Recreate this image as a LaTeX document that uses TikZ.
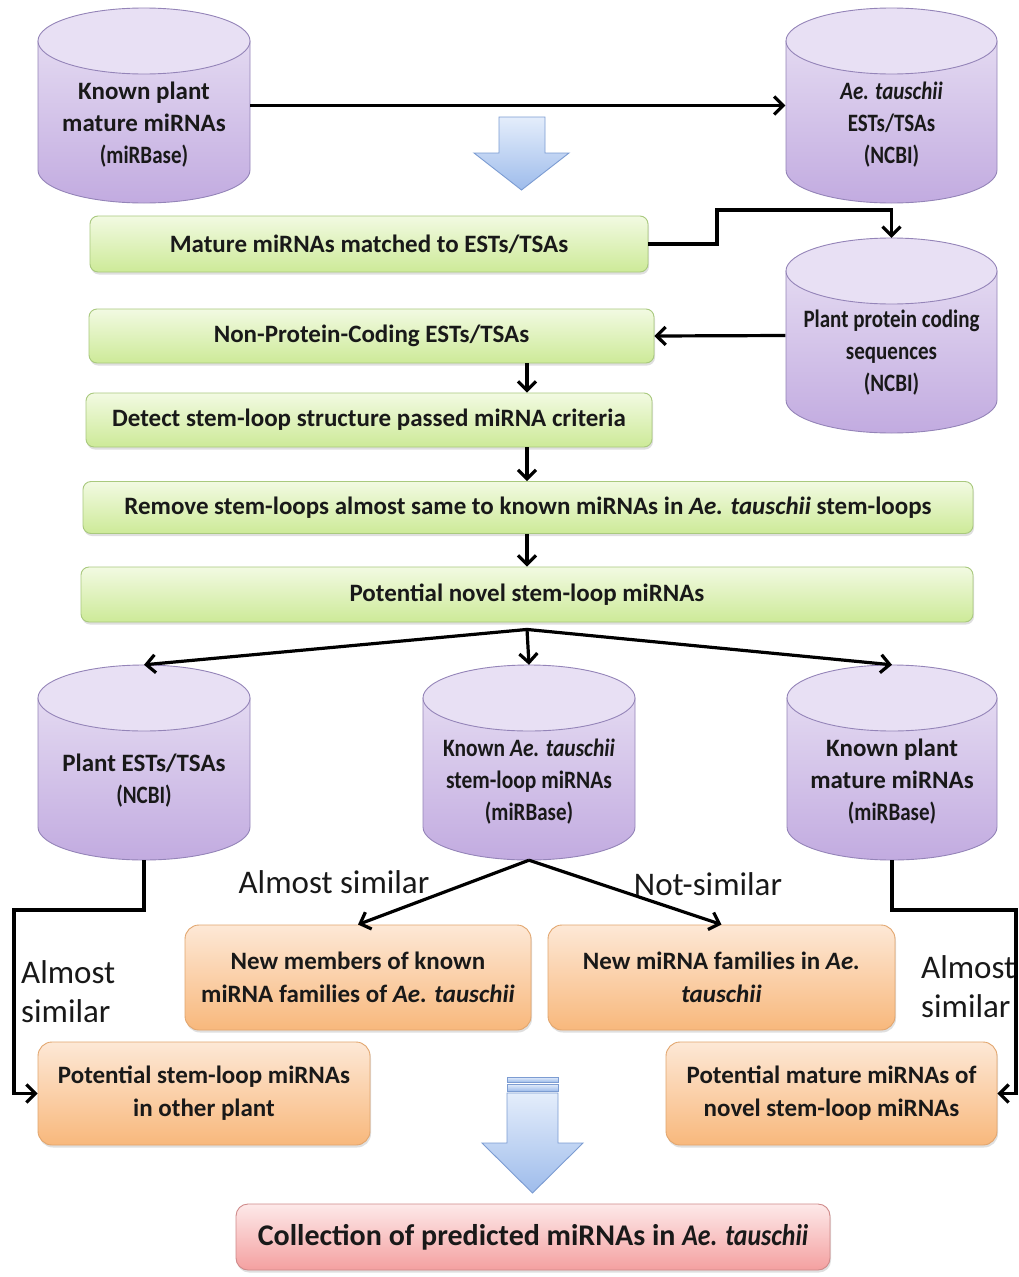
\documentclass[tikz,border=0pt]{standalone}
\usepackage{fontspec}
\setmainfont{Carlito}
\usepackage{graphicx}
\usetikzlibrary{arrows.meta,shadows}
\definecolor{cylTop}{HTML}{E8E0F4}
\definecolor{cylBT}{HTML}{E3D9F1}
\definecolor{cylBB}{HTML}{C2ABE0}
\definecolor{cylE}{HTML}{9484B8}
\definecolor{gT}{HTML}{F2FAE2}
\definecolor{gB}{HTML}{CDEA98}
\definecolor{gE}{HTML}{A9C97E}
\definecolor{oT}{HTML}{FDE8D6}
\definecolor{oB}{HTML}{F8B87C}
\definecolor{oE}{HTML}{E2A66E}
\definecolor{pT}{HTML}{FDE9E9}
\definecolor{pB}{HTML}{F4A0A0}
\definecolor{pE}{HTML}{CF8A8A}
\definecolor{aT}{HTML}{E4EDFB}
\definecolor{aB}{HTML}{9EBCEB}
\definecolor{aE}{HTML}{7C9CD2}
\newcommand\cnd[1]{\scalebox{0.84}[1]{#1}}
\newcommand\cnx[1]{\scalebox{0.86}[1]{#1}}
\newcommand\mycyl[4]{%
 \pgfmathsetmacro\cL{#1-#4}%
 \pgfmathsetmacro\cR{#1+#4}%
 \pgfmathsetmacro\yt{#2+33}%
 \pgfmathsetmacro\yb{#3-33}%
 \pgfmathsetmacro\kx{0.5523*#4}%
 \pgfmathsetmacro\cby{\yb+18.23}%
 \pgfmathsetmacro\cxl{#1-\kx}%
 \pgfmathsetmacro\cxr{#1+\kx}%
 \path[cylbody] (\cL,\yt) -- (\cL,\yb) .. controls (\cL,\cby) and (\cxl,#3) .. (#1,#3) .. controls (\cxr,#3) and (\cR,\cby) .. (\cR,\yb) -- (\cR,\yt) -- cycle;
 \path[cyltop] (#1,\yt) ellipse [x radius=#4pt, y radius=33pt];
}
\tikzset{
 cylbody/.style={draw=cylE, line width=0.9pt, top color=cylBT, bottom color=cylBB},
 cyltop/.style={draw=cylE, line width=0.9pt, fill=cylTop},
 cyln/.style={shape=rectangle, minimum width=212, minimum height=195, inner sep=0},
 cyltxt/.style={align=center, font=\fontsize{25}{32}\selectfont\bfseries, text=black!90, inner sep=0},
 arr/.style={line width=3.2pt, -{Straight Barb[length=9pt,width=18pt]}},
 gbox/.style={shape=rectangle, rounded corners=8pt, draw=gE, line width=0.9pt, top color=gT, bottom color=gB,
   drop shadow={shadow xshift=1pt, shadow yshift=-2.5pt, opacity=0.25},
   align=center, font=\fontsize{25}{30}\selectfont\bfseries, text=black!90, inner sep=0},
 obox/.style={shape=rectangle, rounded corners=14pt, draw=oE, line width=0.9pt, top color=oT, bottom color=oB,
   drop shadow={shadow xshift=1pt, shadow yshift=-2.5pt, opacity=0.25},
   align=center, font=\fontsize{25}{33}\selectfont\bfseries, text=black!90, inner sep=0},
 pbox/.style={shape=rectangle, rounded corners=12pt, draw=pE, line width=0.9pt, top color=pT, bottom color=pB,
   drop shadow={shadow xshift=1pt, shadow yshift=-2.5pt, opacity=0.25},
   align=center, font=\fontsize{30}{36}\selectfont\bfseries, text=black!90, inner sep=0},
 blk/.style={draw=aE, line width=0.9pt, top color=aT, bottom color=aB},
 lbl/.style={font=\fontsize{33}{39}\selectfont, text=black!90, inner sep=0},
}
\begin{document}
\begin{tikzpicture}[x=1pt, y=-1pt]
\useasboundingbox (0,0) rectangle (1019,1277);
\fill[white] (0,0) rectangle (1019,1277);

% cylinders (graphics)
\mycyl{144}{8}{203}{106}
\mycyl{891.5}{8}{203}{105.5}
\mycyl{891.5}{238}{433}{105.5}
\mycyl{144}{665}{860}{106}
\mycyl{529}{665}{860}{106}
\mycyl{892}{665}{860}{105}

% cylinder nodes
\node[cyln] (tl) at (144,105.5) {};
\node[cyln] (tr) at (891.5,105.5) {};
\node[cyln] (c3) at (891.5,335.5) {};
\node[cyln] (bl) at (144,762.5) {};
\node[cyln] (bm) at (529,762.5) {};
\node[cyln] (br) at (892,762.5) {};

\node[cyltxt] (tl-t) at (144,125) {Known plant\\mature miRNAs\\\cnd{(miRBase)}};
\node[cyltxt] (tr-t) at (891.5,125) {\cnd{\textit{Ae. tauschii}}\\\cnd{ESTs/TSAs}\\\cnd{(NCBI)}};
\node[cyltxt] (c3-t) at (891.5,353) {\cnd{Plant protein coding}\\\cnd{sequences}\\\cnd{(NCBI)}};
\node[cyltxt] (bl-t) at (144,781) {Plant ESTs/TSAs\\\cnd{(NCBI)}};
\node[cyltxt] (bm-t) at (529,781.5) {\cnx{Known \textit{Ae. tauschii}}\\\cnx{stem-loop miRNAs}\\\cnd{(miRBase)}};
\node[cyltxt] (br-t) at (892,781.5) {Known plant\\mature miRNAs\\\cnd{(miRBase)}};

% green boxes
\node[gbox, minimum width=558, minimum height=56] (b1) at (369,244) {Mature miRNAs matched to ESTs/TSAs};
\node[gbox, minimum width=565, minimum height=54] (b2) at (371.5,336) {Non-Protein-Coding ESTs/TSAs};
\node[gbox, minimum width=566, minimum height=54] (b3) at (369,420) {Detect stem-loop structure passed miRNA criteria};
\node[gbox, minimum width=890, minimum height=52] (b4) at (528,507.5) {Remove stem-loops almost same to known miRNAs in \textit{Ae. tauschii} stem-loops};
\node[gbox, minimum width=892, minimum height=55] (b5) at (527,594.5) {Potential novel stem-loop miRNAs};

% orange boxes
\node[obox, minimum width=346, minimum height=105] (nm) at (358,977.5) {New members of known\\miRNA families of \textit{Ae. tauschii}};
\node[obox, minimum width=347, minimum height=105] (nf) at (721.5,977.5) {New miRNA families in \textit{Ae.}\\\textit{tauschii}};
\node[obox, minimum width=332, minimum height=103] (pl) at (204,1093.5) {Potential stem-loop miRNAs\\in other plant};
\node[obox, minimum width=331, minimum height=103] (pm) at (831.5,1093.5) {Potential mature miRNAs of\\novel stem-loop miRNAs};

% pink box
\node[pbox, minimum width=594, minimum height=66] (fin) at (533,1237) {Collection of predicted miRNAs in \cnx{\textit{Ae. tauschii}}};

% block arrows
\path[blk] (499,117) -- (545,117) -- (545,153) -- (569,153) -- (521.5,190) -- (474,153) -- (499,153) -- cycle;
\path[blk] (507,1077) rectangle (558,1082);
\path[blk] (507,1084) rectangle (558,1091);
\path[blk] (507,1093) -- (558,1093) -- (558,1143) -- (583,1143) -- (532.5,1193) -- (482,1143) -- (507,1143) -- cycle;

% connectors
\coordinate (e1) at (717,210);
\coordinate (lc) at (14,910);
\coordinate (rc) at (1016,910);
\coordinate (bp) at ([yshift=-7pt]b5.south);
\draw[arr] (tl.east) -- (tr.west);
\draw[arr] (b1.east) -| (e1) -| (c3.north);
\draw[arr] (c3.west) -- (b2.east);
\draw[arr] (b2.south -| b5.north) -- (b3.north -| b5.north);
\draw[arr] (b3.south -| b5.north) -- (b4.north -| b5.north);
\draw[arr] (b4.south -| b5.north) -- (b5.north);
\draw[arr] (bp) -- (bl.north);
\draw[arr] (bp) -- (bm.north);
\draw[arr] (bp) -- (br.north);
\draw[arr] (bm.south) -- (nm.north);
\draw[arr] (bm.south) -- (nf.north);
\draw[arr] (bl.south) |- (lc) |- (pl.west);
\draw[arr] (br.south) |- (rc) |- (pm.east);

% labels
\node[lbl] (l1) at (334,882) {Almost similar};
\node[lbl] (l2) at (708,884) {Not-similar};
\node[lbl, align=left, anchor=west] (l3) at (21,992) {Almost\\similar};
\node[lbl, align=left, anchor=west] (l4) at (921,987) {Almost\\similar};
\end{tikzpicture}
\end{document}
